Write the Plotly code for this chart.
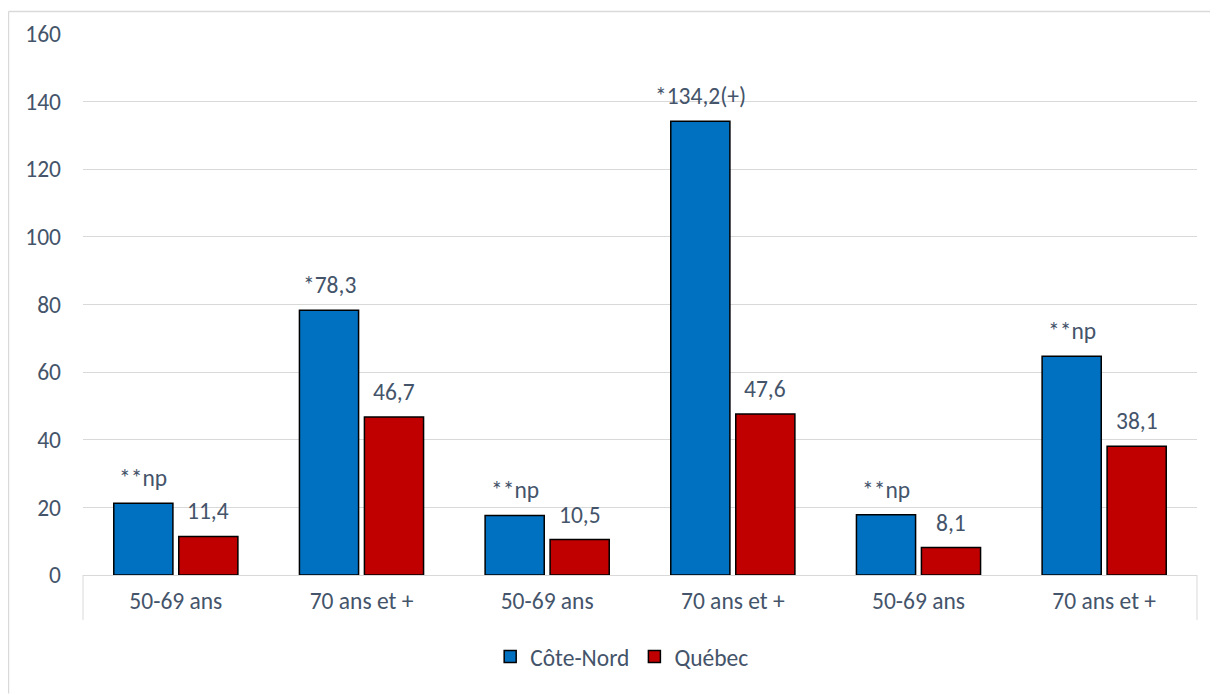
import plotly.graph_objects as go

categories = ["50-69 ans", "70 ans et +", "50-69 ans", "70 ans et +", "50-69 ans", "70 ans et +"]
cote_nord = [21.2, 78.3, 17.6, 134.2, 17.8, 64.7]
quebec = [11.4, 46.7, 10.5, 47.6, 8.1, 38.1]
cote_nord_labels = ["**np", "*78,3", "**np", "*134,2(+)", "**np", "**np"]
quebec_labels = ["11,4", "46,7", "10,5", "47,6", "8,1", "38,1"]

FONT = "Calibri, Carlito, Lato, sans-serif"
TXT = "#44546A"
FS = 23.5
xpos = list(range(len(categories)))

fig = go.Figure()
fig.add_trace(go.Bar(
    x=xpos, y=cote_nord, name="Côte-Nord",
    marker=dict(color="#0070C0", line=dict(color="black", width=1.5)),
))
fig.add_trace(go.Bar(
    x=xpos, y=quebec, name="Québec",
    marker=dict(color="#C00000", line=dict(color="black", width=1.5)),
))

off = 0.175
for i in xpos:
    fig.add_annotation(x=i - off, y=cote_nord[i], text=cote_nord_labels[i],
                       showarrow=False, yanchor="bottom", yshift=9,
                       font=dict(family=FONT, size=FS, color=TXT))
    fig.add_annotation(x=i + off, y=quebec[i], text=quebec_labels[i],
                       showarrow=False, yanchor="bottom", yshift=9,
                       font=dict(family=FONT, size=FS, color=TXT))

fig.update_layout(
    width=1210, height=686,
    margin=dict(l=75, r=21, t=23, b=119),
    plot_bgcolor="white", paper_bgcolor="white",
    barmode="group", bargap=0.30, bargroupgap=0.09,
    font=dict(family=FONT, size=FS, color=TXT),
    showlegend=True,
    legend=dict(orientation="h", x=0.484, xanchor="center", y=-0.151, yanchor="middle",
                font=dict(family=FONT, size=FS, color=TXT), itemwidth=30,
                tracegroupgap=0),
    xaxis=dict(
        tickmode="array", tickvals=xpos, ticktext=categories,
        range=[-0.5, len(categories) - 0.5],
        showgrid=False, zeroline=False, showline=False, ticks="",
        ticklabelstandoff=9,
        tickfont=dict(family=FONT, size=FS, color=TXT),
    ),
    yaxis=dict(
        range=[0, 160], dtick=20, showgrid=True, gridcolor="#D9D9D9", gridwidth=1,
        zeroline=True, zerolinecolor="#D9D9D9", zerolinewidth=1,
        showline=False, ticks="", ticklabelstandoff=21,
        tickfont=dict(family=FONT, size=FS, color=TXT),
    ),
    shapes=[
        dict(type="line", xref="x domain", yref="y domain", x0=0, x1=0, y0=0, y1=-0.083,
             line=dict(color="#D9D9D9", width=1)),
        dict(type="line", xref="x domain", yref="y domain", x0=1, x1=1, y0=0, y1=-0.083,
             line=dict(color="#D9D9D9", width=1)),
        dict(type="line", xref="paper", yref="paper", x0=-0.0669, x1=-0.0669, y0=1.0414, y1=-0.219,
             line=dict(color="#D9D9D9", width=1.5)),
        dict(type="line", xref="paper", yref="paper", x0=-0.0669, x1=1.02, y0=1.0414, y1=1.0414,
             line=dict(color="#D9D9D9", width=1.5)),
    ],
)

fig.write_html("out.html")
